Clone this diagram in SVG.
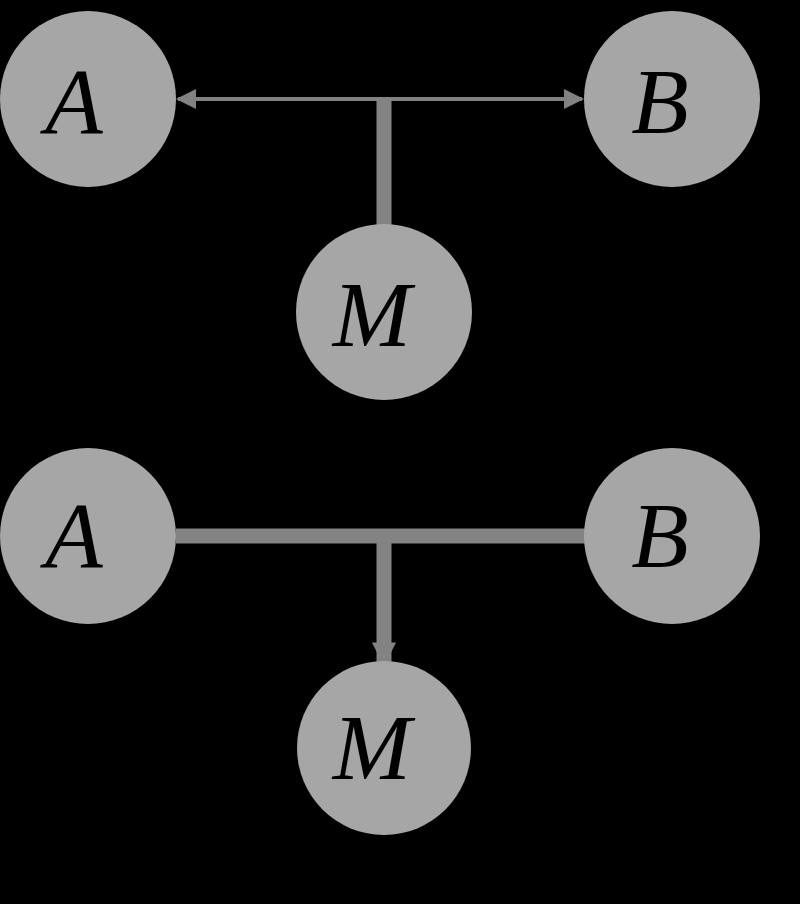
<svg xmlns="http://www.w3.org/2000/svg" width="800" height="904" viewBox="0 0 800 904">
<defs>
<style>
.node circle{fill:#a6a6a6;}
.node text{font-family:"Liberation Serif","DejaVu Serif",serif;font-style:italic;font-size:94px;fill:#000;text-anchor:middle;}
.thin{stroke:#828282;stroke-width:4;fill:none;}
.thick{stroke:#838383;stroke-width:15;fill:none;}
</style>
<marker id="ah" viewBox="0 0 10 10" refX="9" refY="5" markerWidth="5" markerHeight="5" orient="auto" markerUnits="strokeWidth">
<path d="M0,0 L10,5 L0,10 z" fill="#838383"/>
</marker>
<marker id="ah2" viewBox="0 0 10 10" refX="9" refY="5" markerWidth="1.6" markerHeight="1.6" orient="auto" markerUnits="strokeWidth">
<path d="M0,0 L10,5 L0,10 z" fill="#838383"/>
</marker>
</defs>
<rect width="800" height="904" fill="#000"/>
<g id="connectors">
<line class="thin" x1="384" y1="99" x2="178" y2="99" marker-end="url(#ah)"/>
<line class="thin" x1="384" y1="99" x2="582" y2="99" marker-end="url(#ah)"/>
<line class="thick" x1="384" y1="97" x2="384" y2="226"/>
<line class="thick" x1="176" y1="536" x2="586" y2="536"/>
<line class="thick" x1="384" y1="536" x2="384" y2="664" marker-end="url(#ah2)"/>
</g>
<g id="nodeA1" class="node"><circle cx="88" cy="99" r="88"/><text x="74" y="133">A</text></g>
<g id="nodeB1" class="node"><circle cx="672" cy="99" r="88"/><text x="660" y="133">B</text></g>
<g id="nodeM1" class="node"><circle cx="384" cy="312" r="88"/><text x="372" y="346">M</text></g>
<g id="nodeA2" class="node"><circle cx="88" cy="536" r="88"/><text x="74" y="567">A</text></g>
<g id="nodeB2" class="node"><circle cx="672" cy="536" r="88"/><text x="660" y="567">B</text></g>
<g id="nodeM2" class="node"><circle cx="384" cy="748" r="87"/><text x="372" y="779">M</text></g>
</svg>
